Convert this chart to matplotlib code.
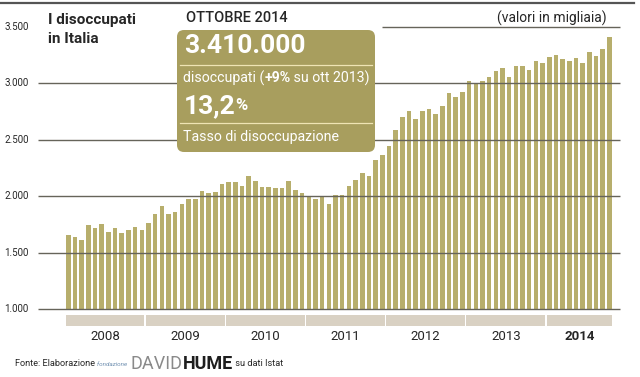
import matplotlib
matplotlib.use("Agg")
import matplotlib.pyplot as plt
from matplotlib import font_manager
from matplotlib.patches import FancyBboxPatch, Rectangle

# dati: disoccupati in Italia (migliaia), gen 2008 - ott 2014
years = ["2008", "2009", "2010", "2011", "2012", "2013", "2014"]
months_per_year = [12, 12, 12, 12, 12, 12, 10]
disoccupati = [
    1653, 1638, 1609, 1741, 1715, 1753, 1685, 1715, 1676, 1697, 1726, 1697,
    1765, 1844, 1909, 1844, 1862, 1932, 1971, 1979, 2047, 2029, 2038, 2109,
    2126, 2126, 2088, 2176, 2132, 2079, 2079, 2070, 2070, 2138, 2059, 2029,
    1990, 1975, 1995, 1933, 2009, 2009, 2088, 2142, 2207, 2177, 2325, 2369,
    2449, 2586, 2704, 2756, 2689, 2759, 2774, 2730, 2798, 2913, 2878, 2928,
    3022, 3007, 3022, 3060, 3113, 3134, 3060, 3158, 3158, 3119, 3202, 3181,
    3232, 3255, 3217, 3202, 3226, 3181, 3282, 3243, 3308, 3410,
]
ytick_values = [1000, 1500, 2000, 2500, 3000, 3500]
ytick_labels = ["1.000", "1.500", "2.000", "2.500", "3.000", "3.500"]

names = {f.name for f in font_manager.fontManager.ttflist}
font = "Liberation Sans Narrow" if "Liberation Sans Narrow" in names else "Roboto"
plt.rcParams["font.family"] = [font, "DejaVu Sans"]

BAR = "#b7ae6c"
BOX = "#a89e5e"
BAND = "#d9d1c3"
GRID = "#66645a"
TXT = "#262626"

W, H = 640, 377
fig = plt.figure(figsize=(W / 100, H / 100), dpi=100)
fig.patch.set_facecolor("white")


def px(x, y):
    # pixel (from top-left) -> inches for dpi_scale_trans
    return x / 100, (H - y) / 100


inch = fig.dpi_scale_trans

# axes: 38..622 px wide, 3..330 px tall
ax = fig.add_axes([38 / W, (H - 330) / H, 584 / W, 327 / H])
ax.set_xlim(-4.54, 82.89)
ax.set_ylim(814, 3713)
ax.axis("off")

x = list(range(len(disoccupati)))
ax.bar(x, [v - 1000 for v in disoccupati], bottom=1000, width=0.68,
       color=BAR, zorder=2)

# gridlines on top of bars
for v in ytick_values[:-1]:
    ax.hlines(v, -4.54, 82.6, color=GRID, lw=1.0, zorder=3)
ax.hlines(3500, 46.96, 82.6, color=GRID, lw=1.0, zorder=3)

# y labels
for v, lab in zip(ytick_values, ytick_labels):
    ax.text(-9.6, v, lab, ha="left", va="center", fontsize=7,
            color=TXT, clip_on=False)

# year bands + labels
start = 0
for yr, n in zip(years, months_per_year):
    a, b = start - 0.4, start + n - 1 + 0.4
    ax.add_patch(Rectangle((a, 849), b - a, 98, color=BAND, lw=0,
                           clip_on=False))
    ax.text((a + b) / 2, 755, yr, ha="center", va="center", fontsize=9.5,
            color=TXT, fontweight="bold" if yr == "2014" else "normal",
            clip_on=False)
    start += n

# top border
fig.add_artist(plt.Line2D([0, 634 / W], [1 - 3 / H, 1 - 3 / H],
                          color="#555555", lw=1.6))

# titles
fig.text(*px(48, 20), "I disoccupati", transform=inch,
         fontsize=11, fontweight="bold", color=TXT, va="center")
fig.text(*px(48, 39), "in Italia", transform=inch,
         fontsize=11, fontweight="bold", color=TXT, va="center")
fig.text(*px(186, 18), "OTTOBRE 2014", transform=inch, fontsize=10.5,
         fontweight="medium", color=TXT, va="center")
fig.text(*px(497, 18), "(valori in migliaia)", transform=inch,
         fontsize=10, color=TXT, va="center")

# box
x0, y0 = px(177, 152)
box = FancyBboxPatch((x0, y0), 1.98, 1.22, transform=inch,
                     boxstyle="round,pad=0,rounding_size=0.07",
                     facecolor=BOX, edgecolor="none", zorder=5)
fig.add_artist(box)
for yl in (65, 123):
    fig.add_artist(plt.Line2D([1.80, 3.72], [(H - yl) / 100] * 2,
                              transform=inch, color="#efe4b4", lw=0.9,
                              zorder=6))

renderer = fig.canvas.get_renderer()


def run(parts, xs, y):
    # place consecutive text runs on one line
    xc = xs
    for s, kw in parts:
        t = fig.text(xc / 100, (H - y) / 100, s, transform=inch,
                     va="center", color="white", zorder=7, **kw)
        xc += t.get_window_extent(renderer).width
    return xc


run([("3.410.000", dict(fontsize=19, fontweight="bold"))], 184, 46)
run([("disoccupati (", dict(fontsize=10.2)),
     ("+9%", dict(fontsize=10.2, fontweight="bold")),
     (" su ott 2013)", dict(fontsize=10.2))], 183, 78)
run([("13,2", dict(fontsize=19, fontweight="bold")),
     ("%", dict(fontsize=12, fontweight="bold"))], 184, 106)
run([("Tasso di disoccupazione", dict(fontsize=10.2))], 183, 137)

# footer
xf = 15
for s, kw in [("Fonte: Elaborazione ", dict(fontsize=6.6, color=TXT)),
              ("fondazione  ", dict(fontsize=4.5, color="#6f8fb0",
                                    style="italic")),
              ("DAVID", dict(fontsize=13, color="#8a8a8a")),
              ("HUME", dict(fontsize=13, color="#1e1e1e", fontweight="bold")),
              (" su dati Istat", dict(fontsize=6.6, color=TXT))]:
    t = fig.text(xf / 100, (H - 364) / 100, s, transform=inch,
                 va="center", **kw)
    xf += t.get_window_extent(renderer).width

fig.savefig("out.png", dpi=100, facecolor="white")
